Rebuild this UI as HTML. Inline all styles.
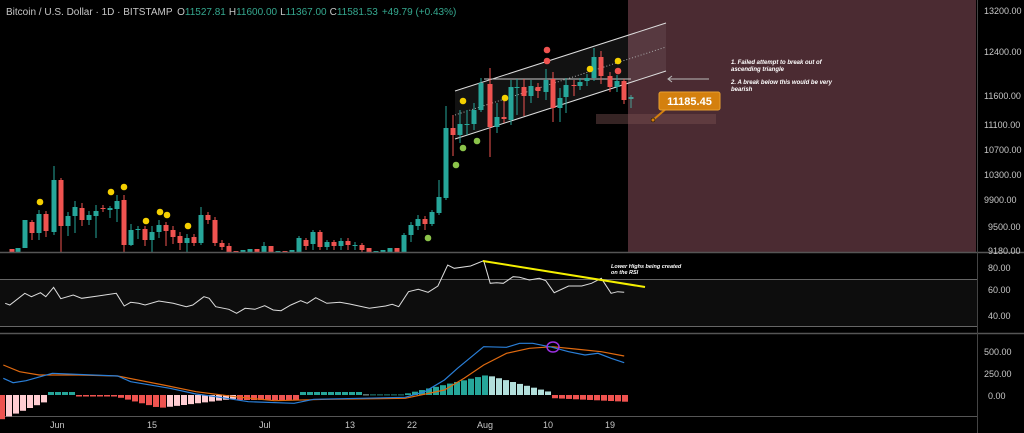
<!DOCTYPE html>
<html><head><meta charset="utf-8"><style>
html,body{margin:0;padding:0;background:#000;}
svg{display:block;font-family:"Liberation Sans",sans-serif;}
</style></head><body>
<svg id="s" width="1024" height="433" viewBox="0 0 1024 433" xmlns="http://www.w3.org/2000/svg">
<rect width="1024" height="433" fill="#000"/>
<rect x="628" y="0" width="348" height="253" fill="#4b2b32"/>
<!-- channel -->
<polygon points="455,91 666,23 666,71 455,139" fill="rgba(255,255,255,0.07)"/>
<line x1="455" y1="91" x2="666" y2="23" stroke="#ddd" stroke-width="1"/>
<line x1="455" y1="139" x2="666" y2="71" stroke="#ddd" stroke-width="1"/>
<line x1="455" y1="115" x2="666" y2="47" stroke="#aaa" stroke-width="1" stroke-dasharray="1,2"/>
<line x1="484" y1="79" x2="631" y2="79" stroke="#ccc" stroke-width="1"/>
<rect x="596" y="114" width="120" height="10" fill="rgba(120,80,80,0.45)"/>
<g id="candles"></g>
<g id="dots"></g>
<!-- arrow -->
<line x1="668" y1="79" x2="709" y2="79" stroke="#bbb" stroke-width="1"/>
<polyline points="672,76 668,79 672,82" fill="none" stroke="#bbb" stroke-width="1"/>
<g fill="#fff" font-size="6" font-style="italic" font-weight="bold">
<text x="731" y="64">1. Failed attempt to break out of</text>
<text x="731" y="71">ascending triangle</text>
<text x="731" y="84">2. A break below this would be very</text>
<text x="731" y="91">bearish</text>
</g>
<!-- label -->
<line x1="653" y1="120" x2="667" y2="108" stroke="#d4800e" stroke-width="2"/>
<circle cx="653" cy="120" r="2" fill="#d4800e" stroke="#000" stroke-width="0.5"/>
<rect x="659" y="92" width="61" height="18" rx="2" fill="#d4800e" stroke="#e8a030" stroke-width="1"/>
<text x="689.5" y="105" fill="#fff" font-size="11" font-weight="bold" text-anchor="middle">11185.45</text>
<!-- title -->
<text x="6" y="15" fill="#c8c8c8" font-size="10">Bitcoin / U.S. Dollar · 1D · BITSTAMP <tspan fill="#c8c8c8" dx="2">O</tspan><tspan fill="#35a88f">11527.81</tspan><tspan dx="3">H</tspan><tspan fill="#35a88f">11600.00</tspan><tspan dx="3">L</tspan><tspan fill="#35a88f">11367.00</tspan><tspan dx="3">C</tspan><tspan fill="#35a88f">11581.53</tspan><tspan fill="#35a88f" dx="4">+49.79 (+0.43%)</tspan></text>
<!-- panel dividers -->
<line x1="0" y1="252.5" x2="1024" y2="252.5" stroke="#555" stroke-width="1.5"/>
<line x1="0" y1="333.5" x2="1024" y2="333.5" stroke="#555" stroke-width="1.5"/>
<line x1="0" y1="416.5" x2="978" y2="416.5" stroke="#555" stroke-width="1"/>
<line x1="977.5" y1="0" x2="977.5" y2="433" stroke="#444" stroke-width="1"/>
<!-- RSI band -->
<rect x="0" y="279" width="977" height="47" fill="#0d0d0d"/>
<line x1="0" y1="279.5" x2="977" y2="279.5" stroke="#666" stroke-width="1"/>
<line x1="0" y1="326.5" x2="977" y2="326.5" stroke="#666" stroke-width="1"/>
<polyline id="rsi" fill="none" stroke="#ddd" stroke-width="1"/>
<line x1="483" y1="261" x2="645" y2="287" stroke="#f5f000" stroke-width="2"/>
<text x="611" y="268" fill="#fff" font-size="5.5" font-style="italic" font-weight="bold">Lower Highs being created</text>
<text x="611" y="274" fill="#fff" font-size="5.5" font-style="italic" font-weight="bold">on the RSI</text>
<!-- MACD -->
<g id="hist"></g>
<polyline id="sig" fill="none" stroke="#e06a10" stroke-width="1.2"/>
<polyline id="mac" fill="none" stroke="#2a7fd8" stroke-width="1.2"/>
<ellipse cx="553" cy="347" rx="6" ry="5" fill="none" stroke="#9b30e0" stroke-width="1.5"/>
<!-- axis labels -->
<g fill="#c8c8c8" font-size="9">
<text x="984" y="14">13200.00</text>
<text x="984" y="55">12400.00</text>
<text x="984" y="99">11600.00</text>
<text x="984" y="128">11100.00</text>
<text x="984" y="153">10700.00</text>
<text x="984" y="178">10300.00</text>
<text x="984" y="203">9900.00</text>
<text x="988" y="230">9500.00</text>
<text x="988" y="254">9180.00</text>
<text x="988" y="271">80.00</text>
<text x="988" y="293">60.00</text>
<text x="988" y="319">40.00</text>
<text x="984" y="355">500.00</text>
<text x="984" y="377">250.00</text>
<text x="988" y="399">0.00</text>
<text x="50" y="428">Jun</text><text x="147" y="428">15</text><text x="259" y="428">Jul</text>
<text x="345" y="428">13</text><text x="407" y="428">22</text><text x="477" y="428">Aug</text>
<text x="543" y="428">10</text><text x="605" y="428">19</text>
</g>
</svg>
<script>
const NS="http://www.w3.org/2000/svg";
function el(p,t,a){const e=document.createElementNS(NS,t);for(const k in a)e.setAttribute(k,a[k]);p.appendChild(e);return e;}
const G="#26a69a",R="#ef5350";
// [x, top, bottom, color, wickTop, wickBot]
const C=[[12,249,253,R],[18,248,253,G],[25,220,248,G],[32,222,233,R,220,240],[39,214,233,G,210,240],[46,214,231,R,211,237],[54,180,232,G,166,235],[61,180,226,R,178,253],[68,216,226,G,212,236],[75,207,216,G,201,233],[82,208,220,R,203,226],[89,215,220,G,211,225],[96,211,216,G,205,238],[103,208,209,R,205,212],[110,208,210,G,206,218],[117,201,209,G,195,222],[124,200,245,R,195,253],[131,230,245,G,224,246],[138,229,230,G,226,239],[145,229,240,R,226,246],[152,232,240,G,226,252],[159,225,232,G,220,238],[166,225,231,R,222,246],[173,230,237,R,226,244],[180,236,243,R,232,250],[187,238,243,G,234,253],[194,237,243,R,234,246],[201,215,243,G,207,245],[208,215,220,R,212,224],[215,220,243,R,217,246],[222,243,247,R,240,250],[229,246,253,R,243,253],[236,251,253,R],[243,250,253,G],[250,249,253,G],[257,249,253,R],[264,246,253,G,242,253],[271,246,253,R],[278,251,253,G],[285,251,253,R],[292,250,253,G],[299,238,253,G,236,253],[306,240,246,R,238,250],[313,232,244,G,230,250],[320,232,247,R,230,250],[327,242,247,G,240,250],[334,242,246,R,240,250],[341,241,246,G,238,250],[348,241,245,R,238,250],[355,245,246,G,242,250],[362,245,250,R,243,253],[369,248,252,R],[376,251,253,G],[383,250,253,G],[390,248,252,G],[397,248,252,R],[404,235,252,G,233,253],[411,225,235,G,222,242],[418,219,226,G,215,230],[425,219,224,R,216,230],[432,212,224,G,210,226],[439,197,213,G,180,215],[446,128,198,G,106,200],[453,128,135,R,115,156],[460,124,135,G,110,143],[467,124,125,G,110,135],[474,110,124,G,103,130],[481,83,110,G,78,112],[490,84,127,R,68,157],[497,117,127,G,103,133],[504,117,119,R,98,123],[511,87,120,G,80,125],[517,87,88,G,79,115],[524,87,96,R,79,116],[531,86,96,G,80,103],[538,87,91,R,83,98],[546,80,92,G,69,100],[553,79,108,R,72,122],[560,98,108,G,88,122],[566,85,97,G,78,113],[574,85,86,R,80,96],[580,82,86,G,78,90],[587,78,81,G,74,86],[594,57,78,G,48,81],[601,57,76,R,51,84],[610,76,87,R,72,92],[617,81,87,G,75,92],[624,81,100,R,79,104],[631,97,99,"#4a9c94",95,108]];
const cg=document.getElementById("candles");
C.forEach(c=>{const wt=c[4]??c[1],wb=c[5]??c[2];
el(cg,"line",{x1:c[0],x2:c[0],y1:wt,y2:wb,stroke:c[3],"stroke-width":1});
el(cg,"rect",{x:c[0]-2.5,y:c[1],width:5,height:Math.max(1,c[2]-c[1]),fill:c[3]});});
const dg=document.getElementById("dots");
[[40,202,"#f5d000"],[111,192,"#f5d000"],[124,187,"#f5d000"],[146,221,"#f5d000"],[160,212,"#f5d000"],[167,215,"#f5d000"],[188,226,"#f5d000"],[463,101,"#f5d000"],[505,98,"#f5d000"],[590,69,"#f5d000"],[618,61,"#f5d000"],[547,50,R],[547,61,R],[618,71,R],[428,238,"#8bc34a"],[456,165,"#8bc34a"],[463,148,"#8bc34a"],[477,141,"#8bc34a"]].forEach(d=>el(dg,"circle",{cx:d[0],cy:d[1],r:3.3,fill:d[2]}));
function pts(a){return a.map(p=>(p[0]/1.53).toFixed(1)+","+(250+p[1]/3).toFixed(1)).join(" ");}
document.getElementById("rsi").setAttribute("points",pts([[8,160],[15,165],[38,130],[48,140],[62,128],[70,140],[82,112],[93,146],[112,135],[125,145],[150,138],[178,130],[190,168],[200,157],[212,160],[222,165],[243,153],[265,160],[285,170],[295,165],[312,140],[320,145],[330,170],[350,178],[362,190],[375,175],[390,178],[405,167],[418,180],[430,182],[445,165],[460,152],[470,160],[483,143],[500,160],[520,157],[535,162],[565,175],[590,168],[600,163],[610,170],[625,125],[640,118],[655,127],[670,108],[685,45],[695,55],[720,48],[740,32],[750,100],[760,98],[770,100],[785,80],[795,82],[810,90],[825,85],[835,92],[848,128],[870,108],[890,108],[905,100],[920,85],[935,130],[945,125],[955,127]]));
document.getElementById("mac").setAttribute("points",pts([[5,385],[20,398],[40,392],[80,370],[180,378],[200,395],[260,415],[300,432],[330,440],[380,455],[450,460],[480,448],[550,445],[620,442],[650,425],[680,390],[700,355],[740,290],[775,292],[795,280],[815,280],[845,292],[870,305],[895,315],[915,310],[935,325],[955,338]]));
document.getElementById("sig").setAttribute("points",pts([[5,345],[30,365],[60,375],[120,375],[180,378],[250,405],[300,425],[360,440],[420,452],[500,448],[620,445],[680,420],[710,385],[740,345],[775,310],[810,295],[845,290],[880,297],[920,305],[955,318]]));
const hg=document.getElementById("hist");const Z=395;
function hv(x){
 if(x<50){return -25+ (x/50)*20;}
 if(x<78)return 3; if(x<118)return -1.5;
 if(x<160)return -2-(x-118)/42*11; if(x<240)return -13+(x-160)/80*10;
 if(x<300)return -5; if(x<365)return 3; if(x<405)return 0.5;
 if(x<487)return 1+(x-405)/82*19; if(x<550)return 20-(x-487)/63*17;
 return -3-(x-550)/81*4;}
let prev=null;
for(let x=2;x<=631;x+=7){const v=hv(x);let col;
 if(v>=0)col=(prev!==null&&v<prev)?"#b2dfdb":G; else col=(prev!==null&&v>prev)?"#ffcdd2":R;
 prev=v;const h=Math.abs(v);
 el(hg,"rect",{x:x-3,y:v>=0?Z-h:Z,width:6,height:Math.max(0.8,h),fill:col});}
</script>
</body></html>
